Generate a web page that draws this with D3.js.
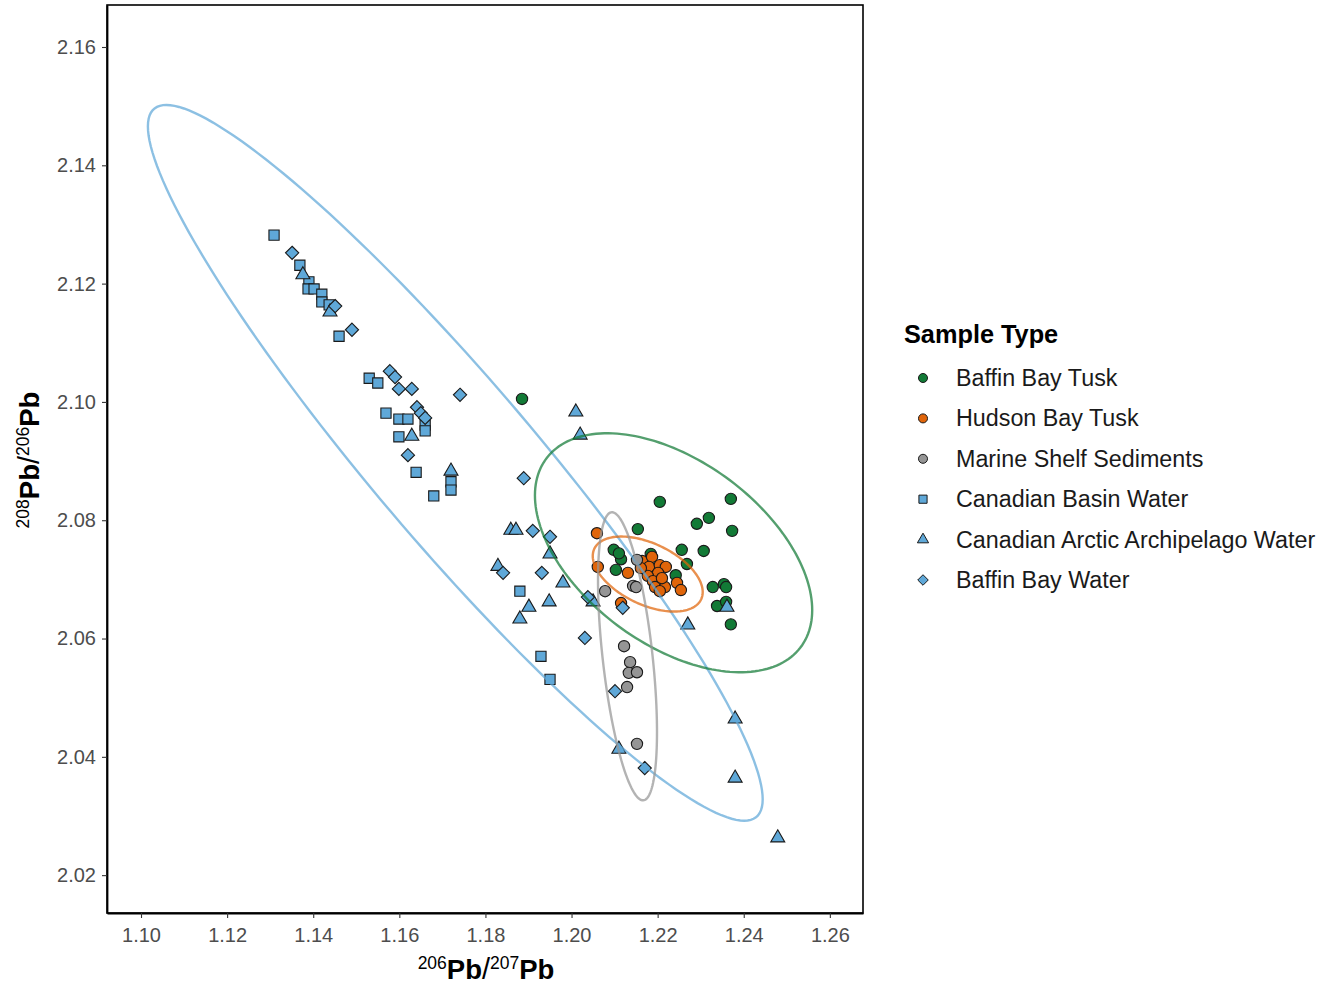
<!DOCTYPE html>
<html><head><meta charset="utf-8">
<script src="https://cdn.jsdelivr.net/npm/d3@7"></script>
<style>body{margin:0;background:#fff} text{font-family:"Liberation Sans",Arial,sans-serif}</style>
</head><body><svg id="c" width="1338" height="985"></svg>
<script>
// ---------- data ----------
const categories = ["Baffin Bay Tusk","Hudson Bay Tusk","Marine Shelf Sediments","Canadian Basin Water","Canadian Arctic Archipelago Water","Baffin Bay Water"];
const shapes = ["circle","circle","circle","square","triangle","diamond"];
const fills = ["#127a36","#e0650a","#959595","#5fa8d8","#5fa8d8","#5fa8d8"];

const baffinBayTusk = [[1.1885,2.1005],[1.2205,2.0831],[1.2370,2.0836],[1.2154,2.0785],[1.2291,2.0794],[1.2319,2.0804],[1.2373,2.0782],[1.2098,2.0750],[1.2115,2.0734],[1.2103,2.0716],[1.2184,2.0743],[1.2256,2.0750],[1.2307,2.0748],[1.2268,2.0726],[1.2242,2.0707],[1.2328,2.0687],[1.2354,2.0692],[1.2359,2.0687],[1.2338,2.0655],[1.2359,2.0662],[1.2370,2.0624],[1.2110,2.0744]];
const hudsonBayTusk = [[1.2059,2.0778],[1.2061,2.0721],[1.2131,2.0711],[1.2115,2.0660],[1.2164,2.0731],[1.2187,2.0738],[1.2180,2.0721],[1.2205,2.0724],[1.2219,2.0721],[1.2201,2.0711],[1.2177,2.0706],[1.2189,2.0697],[1.2194,2.0687],[1.2217,2.0687],[1.2205,2.0680],[1.2245,2.0694],[1.2254,2.0682],[1.2161,2.0719],[1.2210,2.0702]];
const marineShelfSediments = [[1.2078,2.0680],[1.2143,2.0689],[1.2150,2.0687],[1.2152,2.0733],[1.2122,2.0587],[1.2136,2.0560],[1.2133,2.0542],[1.2152,2.0543],[1.2129,2.0518],[1.2152,2.0422]];
const canadianBasinWater = [[1.1309,2.1282],[1.1369,2.1231],[1.1390,2.1203],[1.1388,2.1191],[1.1402,2.1191],[1.1420,2.1182],[1.1420,2.1169],[1.1437,2.1164],[1.1460,2.1111],[1.1530,2.1040],[1.1550,2.1032],[1.1569,2.0981],[1.1599,2.0971],[1.1620,2.0971],[1.1660,2.0961],[1.1660,2.0951],[1.1599,2.0941],[1.1639,2.0881],[1.1680,2.0841],[1.1720,2.0865],[1.1720,2.0851],[1.1880,2.0680],[1.1929,2.0570],[1.1950,2.0531]];
const canadianArcticArchipelagoWater = [[1.1376,2.1215],[1.1439,2.1152],[1.1629,2.0942],[1.1720,2.0883],[1.2010,2.0983],[1.2020,2.0944],[1.1859,2.0783],[1.1871,2.0783],[1.1950,2.0743],[1.1829,2.0722],[1.1980,2.0694],[1.1901,2.0653],[1.1948,2.0662],[1.1880,2.0633],[1.2050,2.0662],[1.2270,2.0623],[1.2361,2.0653],[1.2110,2.0413],[1.2380,2.0464],[1.2380,2.0364],[1.2479,2.0263]];
const baffinBayWater = [[1.1351,2.1252],[1.1451,2.1162],[1.1490,2.1122],[1.1578,2.1052],[1.1590,2.1042],[1.1599,2.1022],[1.1629,2.1022],[1.1741,2.1012],[1.1641,2.0991],[1.1650,2.0981],[1.1660,2.0973],[1.1620,2.0910],[1.1889,2.0871],[1.1910,2.0782],[1.1950,2.0772],[1.1841,2.0711],[1.1931,2.0711],[1.2038,2.0670],[1.2031,2.0601],[1.2119,2.0652],[1.2101,2.0511],[1.2170,2.0381]];
const seriesValues = [baffinBayTusk,hudsonBayTusk,marineShelfSediments,canadianBasinWater,canadianArcticArchipelagoWater,baffinBayWater];

// 95% ellipses: centre, spread in x, spread in y, correlation
const ellipseGroups = ["Water","Baffin Bay Tusk","Hudson Bay Tusk","Marine Shelf Sediments"];
const ellipseCenters = [[1.1730,2.0897],[1.2237,2.0745],[1.2177,2.0709],[1.2130,2.0570]];
const ellipseSpreads = [[0.0714,0.0605],[0.0322,0.0202],[0.01277,0.00634],[0.00685,0.02435]];
const ellipseCorr = [-0.94,-0.48,-0.48,-0.525];
const ellipseColors = ["#5fa8d8","#127a36","#e0650a","#959595"];

const xTicks = [1.10,1.12,1.14,1.16,1.18,1.20,1.22,1.24,1.26];
const yTicks = [2.02,2.04,2.06,2.08,2.10,2.12,2.14,2.16];

// ---------- drawing ----------
const svg = d3.select("#c");
const L=107, R=863, T=5, B=913;
const x = d3.scaleLinear().domain([1.0921,1.2677]).range([L,R]);
const y = d3.scaleLinear().domain([2.0136,2.1671]).range([B,T]);

function shapePath(s, k){
  k = k||1;
  if(s==="circle"){ return d3.symbol(d3.symbolCircle, 100*k*k)(); }
  if(s==="square"){ const h=5.1*k; return `M${-h},${-h}L${h},${-h}L${h},${h}L${-h},${h}Z`; }
  if(s==="triangle"){ const w=7*k, ht=12.1*k; return `M0,${-ht*2/3}L${w},${ht/3}L${-w},${ht/3}Z`; }
  if(s==="diamond"){ const h=6.6*k; return `M0,${-h}L${h},0L0,${h}L${-h},0Z`; }
}
const gp = svg.append("g");
seriesValues.forEach((pts,i)=>{
  gp.selectAll(null).data(pts).enter().append("path")
    .attr("d", shapePath(shapes[i]))
    .attr("transform", d=>`translate(${x(d[0])},${y(d[1])})`)
    .attr("fill", fills[i]).attr("stroke","#1a1a1a").attr("stroke-width",1.1);
});

// ellipses
const ts = d3.range(0,361,2).map(a=>a*Math.PI/180);
const line = d3.line().x(d=>x(d[0])).y(d=>y(d[1])).curve(d3.curveLinearClosed);
ellipseGroups.forEach((g,i)=>{
  const [cx,cy]=ellipseCenters[i], [sx,sy]=ellipseSpreads[i], r=ellipseCorr[i];
  const pts = ts.map(t=>[cx+sx*Math.cos(t), cy+sy*(r*Math.cos(t)+Math.sqrt(1-r*r)*Math.sin(t))]);
  svg.append("path").attr("d",line(pts)).attr("fill","none")
    .attr("stroke",ellipseColors[i]).attr("stroke-opacity",0.72).attr("stroke-width",2.4);
});

// panel border
svg.append("rect").attr("x",L).attr("y",T).attr("width",R-L).attr("height",B-T)
  .attr("fill","none").attr("stroke","#000").attr("stroke-width",1.6);

// axes
const xa = svg.append("g").attr("transform",`translate(0,${B})`)
  .call(d3.axisBottom(x).tickValues(xTicks).tickFormat(d3.format(".2f")).tickSize(5).tickSizeOuter(0));
const ya = svg.append("g").attr("transform",`translate(${L},0)`)
  .call(d3.axisLeft(y).tickValues(yTicks).tickFormat(d3.format(".2f")).tickSize(5).tickSizeOuter(0));
[xa,ya].forEach(a=>{
  a.select(".domain").attr("stroke","#000").attr("stroke-width",1.8);
  a.selectAll(".tick line").attr("stroke","#333").attr("stroke-width",1.1);
  a.selectAll(".tick text").attr("fill","#4d4d4d").style("font-size","20px").style("font-family","'Liberation Sans',Arial,sans-serif");
});
xa.selectAll(".tick text").attr("dy","0.9em").attr("y",11);
ya.selectAll(".tick text").attr("x",-11);

// axis titles
function isoTitle(sel, a, b){
  sel.append("tspan").text(a).style("font-size","17.5px").attr("dy","-0.55em");
  sel.append("tspan").text("Pb").style("font-size","27.5px").style("font-weight","bold").attr("dy","0.35em");
  sel.append("tspan").text("/").style("font-size","29px");
  sel.append("tspan").text(b).style("font-size","17.5px").attr("dy","-0.55em");
  sel.append("tspan").text("Pb").style("font-size","27.5px").style("font-weight","bold").attr("dy","0.35em");
}
const xt = svg.append("text").attr("x",486).attr("y",979).attr("text-anchor","middle").attr("fill","#000");
isoTitle(xt,"206","207");
const yt = svg.append("text").attr("transform","translate(39,460) rotate(-90)").attr("text-anchor","middle").attr("fill","#000");
isoTitle(yt,"208","206");

// legend
const lg = svg.append("g");
lg.append("text").attr("x",904).attr("y",334).attr("dominant-baseline","central")
  .style("font-size","25.3px").style("font-weight","bold").attr("fill","#000").text("Sample Type");
categories.forEach((c,i)=>{
  const yy = 378 + i*40.4;
  lg.append("path").attr("d",shapePath(shapes[i],0.8)).attr("transform",`translate(923,${yy})`)
    .attr("fill",fills[i]).attr("stroke","#1a1a1a").attr("stroke-width",1);
  lg.append("text").attr("x",956).attr("y",yy).attr("dominant-baseline","central")
    .style("font-size","23.3px").attr("fill","#1a1a1a").text(c);
});
</script></body></html>
